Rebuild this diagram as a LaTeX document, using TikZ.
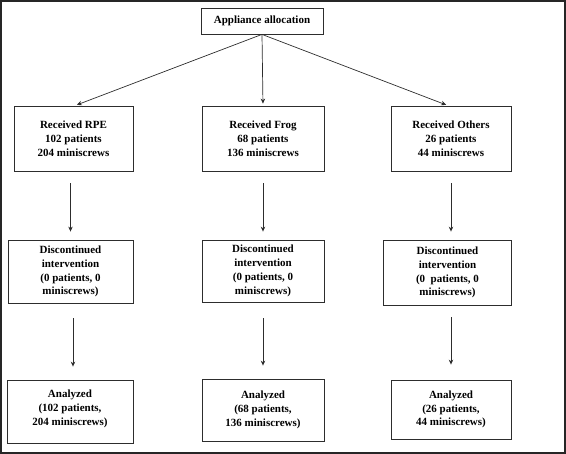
\documentclass[tikz,border=0pt]{standalone}
\usepackage{fontspec}
\setmainfont{Liberation Serif}
\usepackage{tikz}
\usetikzlibrary{arrows.meta,positioning}
\definecolor{traitGris}{RGB}{45,45,45}

\begin{document}
\begin{tikzpicture}[x=1pt,y=-1pt,
  font=\fontsize{11}{13.8}\selectfont\bfseries,
  boite/.style={rectangle,draw=traitGris,line width=0.8pt,inner sep=0pt,align=center},
  fleche/.style={-{Stealth[length=5pt,width=4.5pt]},traitGris,line width=0.7pt}]

  \useasboundingbox (0,0) rectangle (566,454);
  \draw[line width=2pt,black!85] (1,1) rectangle (565,453);

  \node[boite,minimum width=122pt,minimum height=26pt,font=\fontsize{11}{13}\selectfont\bfseries] (ALLOC) at (262,21) {Appliance allocation};

  \node[boite,minimum width=119pt,minimum height=65pt] (RPE) at (73.5,138.5) {Received RPE\\102 patients\\204 miniscrews};
  \node[boite,minimum width=122pt,minimum height=65pt] (FROG) at (263,138.5) {Received Frog\\68 patients\\136 miniscrews};
  \node[boite,minimum width=120pt,minimum height=65pt] (OTH) at (451,138.5) {Received Others\\26 patients\\44 miniscrews};

  \node[boite,minimum width=125pt,minimum height=63pt] (DRPE) at (70.5,271.5) {Discontinued\\intervention\\(0 patients, 0\\miniscrews)};
  \node[boite,minimum width=122pt,minimum height=62pt] (DFROG) at (263,271) {Discontinued\\intervention\\(0 patients, 0\\miniscrews)};
  \node[boite,minimum width=128pt,minimum height=65pt] (DOTH) at (447.5,272.5) {Discontinued\\intervention\\(0\ \ patients, 0\\miniscrews)};

  \node[boite,minimum width=126pt,minimum height=63pt] (ARPE) at (70,411.5) {Analyzed\\(102 patients,\\204 miniscrews)\\[-6pt]};
  \node[boite,minimum width=122pt,minimum height=62pt] (AFROG) at (263,410) {Analyzed\\(68 patients,\\136 miniscrews)};
  \node[boite,minimum width=120pt,minimum height=59pt] (AOTH) at (451,409.5) {Analyzed\\(26 patients,\\44 miniscrews)};

  \draw[fleche,shorten >=2pt] (ALLOC.south) -- ([xshift=1.5pt]RPE.north);
  \draw[fleche,shorten >=2pt] (ALLOC.south) -- (FROG.north);
  \draw[fleche,shorten >=2pt] (ALLOC.south) -- ([xshift=-3pt]OTH.north);

  \draw[fleche,shorten <=12pt,shorten >=8pt] (DRPE.north |- RPE.south) -- (DRPE.north);
  \draw[fleche,shorten <=12pt,shorten >=8pt] (FROG.south) -- (DFROG.north);
  \draw[fleche,shorten <=12pt,shorten >=8pt] (OTH.south) -- (OTH.south |- DOTH.north);

  \draw[fleche,shorten <=15pt,shorten >=13pt] ([xshift=3pt]ARPE.north |- DRPE.south) -- ([xshift=3pt]ARPE.north);
  \draw[fleche,shorten <=16pt,shorten >=13pt] (DFROG.south) -- (AFROG.north);
  \draw[fleche,shorten <=12pt,shorten >=15pt] (AOTH.north |- DOTH.south) -- (AOTH.north);
\end{tikzpicture}
\end{document}
